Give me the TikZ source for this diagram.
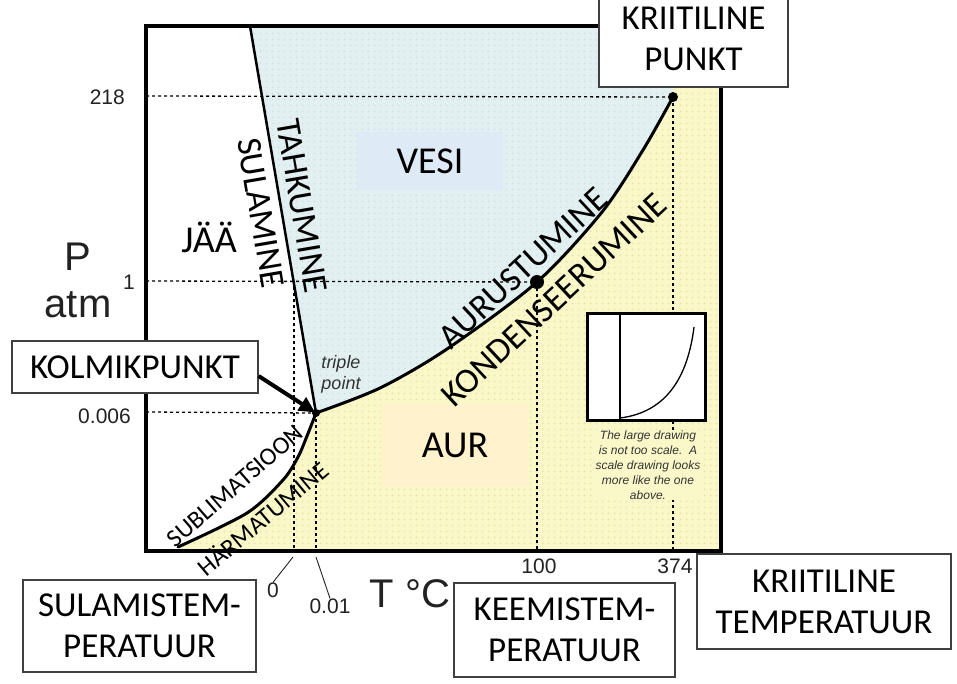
\documentclass[tikz,border=0pt]{standalone}
\usepackage{fontspec}
\setmainfont{Carlito}
\newfontfamily\arialf{Liberation Sans}
\usetikzlibrary{arrows.meta,patterns.meta}
\definecolor{waterblue}{HTML}{E3F0F2}
\definecolor{waterdot}{HTML}{CFDFE2}
\definecolor{vaporyellow}{HTML}{FAF8C8}
\definecolor{vapordot}{HTML}{E8E4B0}
\definecolor{boxblue}{HTML}{DEEBF7}
\definecolor{boxorange}{HTML}{FFF2CC}
\definecolor{tickgray}{HTML}{222222}
\definecolor{capgray}{HTML}{333333}
\definecolor{edgegray}{HTML}{404040}
\tikzdeclarepattern{
  name=softdots,
  type=uncolored,
  bottom left={(0pt,0pt)},
  top right={(6pt,6pt)},
  tile size={(6pt,6pt)},
  code={\pgfpathcircle{\pgfpoint{3pt}{3pt}}{1.1pt}\pgfusepath{fill}}
}
\begin{document}
\begin{tikzpicture}[x=1pt,y=-1pt,
  labelbox/.style={draw=edgegray, line width=1.2pt, fill=white, align=center, inner sep=0pt, font=\fontsize{35}{41}\selectfont},
  region/.style={inner sep=0pt, font=\fontsize{38}{44}\selectfont},
  linelabel/.style={inner sep=0pt, font=\fontsize{35}{40}\selectfont},
  smalllabel/.style={inner sep=0pt, font=\fontsize{25}{30}\selectfont},
  tick/.style={inner sep=0pt, text=tickgray, font=\arialf\fontsize{21}{25}\selectfont},
  axislabel/.style={inner sep=0pt, text=tickgray, font=\arialf\fontsize{40}{46}\selectfont},
  dotline/.style={line width=1.3pt, dash pattern=on 3pt off 3pt},
  phase/.style={line width=3pt, line join=round, line cap=round},
  ticklead/.style={line width=0.9pt, tickgray},
  caption/.style={inner sep=1pt, align=center, text=capgray, font=\arialf\itshape\fontsize{12}{15}\selectfont},
  ptdot/.style={fill=black},
]
\useasboundingbox (0,0) rectangle (957,683);
\fill[white] (0,0) rectangle (957,683);

\coordinate (tp) at (316,413);
\coordinate (bp) at (537,282);
\coordinate (cp) at (673,97);
\coordinate (mtop) at (250,26);

% regions
\fill[vaporyellow] plot[smooth] coordinates {(178,547) (247,513) (283,480) (298,457) (307,436) (316,413)}
  -- plot[smooth] coordinates {(316,413) (380,388) (447,349) (537,282) (602,212) (643,150) (673,97)}
  -- (673,26) -- (721,26) -- (721,551) -- (178,551) -- cycle;
\fill[pattern=softdots, pattern color=vapordot] plot[smooth] coordinates {(178,547) (247,513) (283,480) (298,457) (307,436) (316,413)}
  -- plot[smooth] coordinates {(316,413) (380,388) (447,349) (537,282) (602,212) (643,150) (673,97)}
  -- (673,26) -- (721,26) -- (721,551) -- (178,551) -- cycle;
\fill[waterblue] (250,26) -- (316,413)
  -- plot[smooth] coordinates {(316,413) (380,388) (447,349) (537,282) (602,212) (643,150) (673,97)}
  -- (673,26) -- cycle;
\fill[pattern=softdots, pattern color=waterdot] (250,26) -- (316,413)
  -- plot[smooth] coordinates {(316,413) (380,388) (447,349) (537,282) (602,212) (643,150) (673,97)}
  -- (673,26) -- cycle;

% dotted guide lines
\draw[dotline] (146,96) -- (cp);
\draw[dotline] (146,281) -- (bp);
\draw[dotline] (146,412) -- (tp);
\draw[dotline] (294,281) -- (294,551);
\draw[dotline] (tp) -- (316,551);
\draw[dotline] (bp) -- (537,551);
\draw[dotline] (cp) -- (673,551);

% region boxes
\node[region, fill=boxblue, minimum width=146pt, minimum height=58pt] (vesi) at (430,161) {VESI};
\node[region, fill=boxorange, minimum width=145pt, minimum height=82pt] (aur) at (455,445) {AUR};
\node[region] (jaa) at (209,237) {JÄÄ};

% phase lines
\draw[line width=2.5pt] (mtop) -- (tp);
\draw[phase] plot[smooth] coordinates {(178,547) (247,513) (283,480) (298,457) (307,436) (316,413)};
\draw[phase] plot[smooth] coordinates {(316,413) (380,388) (447,349) (537,282) (602,212) (643,150) (673,97)};

% frame
\draw[line width=3.5pt] (146,26) rectangle (721,551);

% inset
\draw[line width=3pt, fill=white] (587,313) rectangle (705,420);
\draw[line width=1.3pt] (620,313) -- (620,420);
\draw[line width=1.3pt] (620,418) .. controls (668,412) and (688,375) .. (694,327);
\node[caption, fill=vaporyellow] (cap) at (648,465) {The large drawing\\is not too scale.\ \ A\\scale drawing looks\\more like the one\\above.};

% points
\fill[ptdot] (tp) circle (4);
\fill[ptdot] (bp) circle (7);
\fill[ptdot] (cp) circle (5);

% line labels
\node[linelabel, rotate=-80.3] (sulamine) at (261,213) {SULAMINE};
\node[linelabel, rotate=-80.3] (tahkumine) at (302,206) {TAHKUMINE};
\node[linelabel, rotate=43] (aurust) at (523,268) {AURUSTUMINE};
\node[linelabel, rotate=43] (konden) at (554,300) {KONDENSEERUMINE};
\node[smalllabel, rotate=41] (sublim) at (235,486) {SUBLIMATSIOON};
\node[smalllabel, rotate=40] (harm) at (262,518) {HÄRMATUMINE};
\node[caption, font=\arialf\itshape\fontsize{18}{21}\selectfont] (triple) at (341,374) {triple\\point};

% axis labels
\node[axislabel] (P) at (78,257) {P};
\node[axislabel] (atm) at (78,305) {atm};
\node[tick, anchor=east] (t218) at (125,97) {218};
\node[tick, anchor=east] (t1) at (135,282) {1};
\node[tick, anchor=east] (t0006) at (131,416) {0.006};
\node[tick] (t0) at (273,590) {0};
\node[tick] (t001) at (330,606) {0.01};
\node[tick] (t100) at (539,566) {100};
\node[tick] (t374) at (675,566) {374};
\node[axislabel] (TC) at (410,594) {T °C};
\coordinate (l0) at (293,557);
\coordinate (l001) at (316,557);
\draw[ticklead] (l0) -- (t0.north);
\draw[ticklead] (l001) -- (t001.north);

% callout boxes
\node[labelbox, minimum width=189pt, minimum height=97pt] (kpunkt) at (693.5,38.5) {KRIITILINE\\PUNKT};
\node[labelbox, minimum width=246pt, minimum height=52pt] (kolmik) at (135,367) {KOLMIKPUNKT};
\node[labelbox, minimum width=233pt, minimum height=92pt] (sulam) at (139.5,626) {SULAMISTEM-\\PERATUUR};
\node[labelbox, minimum width=221pt, minimum height=94pt] (keem) at (564.5,630) {KEEMISTEM-\\PERATUUR};
\node[labelbox, minimum width=254pt, minimum height=95pt] (ktemp) at (824,601.5) {KRIITILINE\\TEMPERATUUR};

% arrow
\draw[line width=4pt, -{Triangle[length=16pt,width=15pt]}, shorten >=1pt] ([yshift=-9pt]kolmik.east) -- (tp);
\end{tikzpicture}
\end{document}
